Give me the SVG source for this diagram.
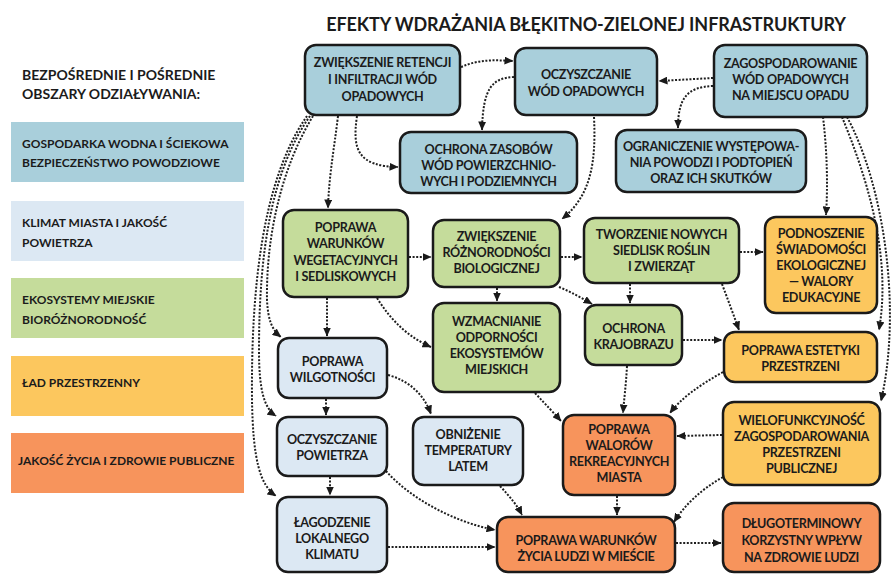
<svg xmlns="http://www.w3.org/2000/svg" width="894" height="574" viewBox="0 0 894 574">
<style>
text{font-family:Lato,"Liberation Sans","DejaVu Sans",sans-serif;font-weight:bold;fill:#1b1b1b}
.t{font-size:12.6px;letter-spacing:-0.3px;text-anchor:middle}
.lg{font-size:12px}
.hd{font-size:14px}
.ttl{font-size:18px;letter-spacing:-0.1px;text-anchor:middle}
.n{stroke:#1a1a1a;stroke-width:2.5}
.w{fill:#a9cfdb}.k{fill:#dce8f3}.g{fill:#c5dc9b}.y{fill:#fcc75e}.o{fill:#f7945c}
.c path{fill:none;stroke:#1f1f1f;stroke-width:2;stroke-dasharray:2 1.6;marker-end:url(#ah)}
</style>
<defs>
<marker id="ah" markerUnits="userSpaceOnUse" markerWidth="9" markerHeight="8" refX="8.5" refY="4" orient="auto">
<path d="M0,0 L9,4 L0,8 z" fill="#1a1a1a"/>
</marker>
</defs>
<rect width="894" height="574" fill="#ffffff"/>
<text class="ttl" x="586" y="31">EFEKTY WDRAŻANIA BŁĘKITNO-ZIELONEJ INFRASTRUKTURY</text>

<g id="legend">
<text class="hd" x="22" y="80">BEZPOŚREDNIE I POŚREDNIE</text>
<text class="hd" x="22" y="99">OBSZARY ODZIAŁYWANIA:</text>
<rect class="w" x="11" y="122" width="233" height="60"/>
<text class="lg" x="22" y="148">GOSPODARKA WODNA I ŚCIEKOWA</text>
<text class="lg" x="22" y="167">BEZPIECZEŃSTWO POWODZIOWE</text>
<rect class="k" x="11" y="201" width="233" height="60"/>
<text class="lg" x="22" y="227">KLIMAT MIASTA I JAKOŚĆ</text>
<text class="lg" x="22" y="247">POWIETRZA</text>
<rect class="g" x="11" y="278" width="233" height="60"/>
<text class="lg" x="22" y="304">EKOSYSTEMY MIEJSKIE</text>
<text class="lg" x="22" y="324">BIORÓŻNORODNOŚĆ</text>
<rect class="y" x="11" y="356" width="233" height="60"/>
<text class="lg" x="22" y="387">ŁAD PRZESTRZENNY</text>
<rect class="o" x="11" y="433" width="233" height="60"/>
<text class="lg" x="18" y="465">JAKOŚĆ ŻYCIA I ZDROWIE PUBLICZNE</text>
</g>

<g class="c" id="connectors">
<path d="M461,67 C480,59 495,60 513,61"/>
<path d="M514,77 C492,78 483,88 482,130"/>
<path d="M713,78 L659,81"/>
<path d="M713,86 C688,87 678,97 678,128"/>
<path d="M357,116 C352,150 358,166 398,167"/>
<path d="M338,116 C334,150 329,175 328,208"/>
<path d="M313,116 C280,170 266,240 267,300 C268,320 272,330 281,337"/>
<path d="M310,116 C272,170 259,250 259,350 C259,390 264,408 276,416"/>
<path d="M307,116 C262,180 251,290 252,400 C253,460 260,485 276,496"/>
<path d="M594,117 C596,160 592,195 562,219"/>
<path d="M823,117 C827,150 828,185 826,215"/>
<path d="M842,117 C866,175 892,255 879,330"/>
<path d="M847,117 C884,185 902,310 881,401"/>
<path d="M409,257 L431,257"/>
<path d="M327,298 L327,336"/>
<path d="M377,298 C392,322 410,338 431,347"/>
<path d="M561,257 L582,257"/>
<path d="M497,288 L497,301"/>
<path d="M559,287 C571,292 582,298 592,304"/>
<path d="M740,252 L763,252"/>
<path d="M630,284 L630,303"/>
<path d="M722,284 C728,300 734,316 739,330"/>
<path d="M683,340 L722,340"/>
<path d="M326,399 L326,415"/>
<path d="M388,375 C410,381 424,395 431,414"/>
<path d="M535,393 C546,405 554,413 561,421"/>
<path d="M627,366 C626,385 624,400 623,413"/>
<path d="M723,372 C700,385 681,398 670,413"/>
<path d="M722,435 L677,436"/>
<path d="M330,477 L330,495"/>
<path d="M386,471 C412,500 455,522 495,530"/>
<path d="M500,486 C510,497 517,505 522,515"/>
<path d="M617,496 L617,515"/>
<path d="M723,477 C700,490 684,506 674,522"/>
<path d="M388,547 L495,547"/>
<path d="M676,543 L721,543"/>
</g>

<g id="n1"><rect class="n w" x="305" y="45" width="155" height="70" rx="11"/>
<text class="t" x="382.5" y="67">ZWIĘKSZENIE RETENCJI</text><text class="t" x="382.5" y="84">I INFILTRACJI WÓD</text><text class="t" x="382.5" y="101">OPADOWYCH</text></g>
<g id="n2"><rect class="n w" x="515" y="48" width="142" height="67" rx="11"/>
<text class="t" x="586" y="79">OCZYSZCZANIE</text><text class="t" x="586" y="96">WÓD OPADOWYCH</text></g>
<g id="n3"><rect class="n w" x="714" y="45" width="153" height="72" rx="11"/>
<text class="t" x="790.5" y="68">ZAGOSPODAROWANIE</text><text class="t" x="790.5" y="84">WÓD OPADOWYCH</text><text class="t" x="790.5" y="100">NA MIEJSCU OPADU</text></g>
<g id="n4"><rect class="n w" x="400" y="132" width="177" height="61" rx="11"/>
<text class="t" x="488.5" y="154">OCHRONA ZASOBÓW</text><text class="t" x="488.5" y="170">WÓD POWIERZCHNIO-</text><text class="t" x="488.5" y="186">WYCH I PODZIEMNYCH</text></g>
<g id="n5"><rect class="n w" x="616" y="130" width="190" height="62" rx="11"/>
<text class="t" x="711" y="151">OGRANICZENIE WYSTĘPOWA-</text><text class="t" x="711" y="167">NIA POWODZI I PODTOPIEŃ</text><text class="t" x="711" y="183">ORAZ ICH SKUTKÓW</text></g>
<g id="n6"><rect class="n g" x="283" y="210" width="125" height="87" rx="11"/>
<text class="t" x="345.5" y="232">POPRAWA</text><text class="t" x="345.5" y="248">WARUNKÓW</text><text class="t" x="345.5" y="265">WEGETACYJNYCH</text><text class="t" x="345.5" y="281">I SEDLISKOWYCH</text></g>
<g id="n7"><rect class="n g" x="433" y="220" width="127" height="67" rx="11"/>
<text class="t" x="496.5" y="241">ZWIĘKSZENIE</text><text class="t" x="496.5" y="257">RÓŻNORODNOŚCI</text><text class="t" x="496.5" y="273">BIOLOGICZNEJ</text></g>
<g id="n8"><rect class="n g" x="584" y="218" width="155" height="65" rx="11"/>
<text class="t" x="661.5" y="239">TWORZENIE NOWYCH</text><text class="t" x="661.5" y="255">SIEDLISK ROŚLIN</text><text class="t" x="661.5" y="271">I ZWIERZĄT</text></g>
<g id="n9"><rect class="n y" x="765" y="217" width="112" height="96" rx="11"/>
<text class="t" x="821" y="238">PODNOSZENIE</text><text class="t" x="821" y="254">ŚWIADOMOŚCI</text><text class="t" x="821" y="270">EKOLOGICZNEJ</text><text class="t" x="821" y="286">— WALORY</text><text class="t" x="821" y="302">EDUKACYJNE</text></g>
<g id="n10"><rect class="n k" x="278" y="338" width="109" height="60" rx="11"/>
<text class="t" x="332.5" y="366">POPRAWA</text><text class="t" x="332.5" y="382">WILGOTNOŚCI</text></g>
<g id="n11"><rect class="n g" x="433" y="303" width="127" height="89" rx="11"/>
<text class="t" x="496.5" y="326">WZMACNIANIE</text><text class="t" x="496.5" y="342">ODPORNOŚCI</text><text class="t" x="496.5" y="358">EKOSYSTEMÓW</text><text class="t" x="496.5" y="374">MIEJSKICH</text></g>
<g id="n12"><rect class="n g" x="585" y="305" width="97" height="60" rx="11"/>
<text class="t" x="633.5" y="333">OCHRONA</text><text class="t" x="633.5" y="349">KRAJOBRAZU</text></g>
<g id="n13"><rect class="n y" x="724" y="332" width="153" height="50" rx="11"/>
<text class="t" x="800.5" y="355">POPRAWA ESTETYKI</text><text class="t" x="800.5" y="371">PRZESTRZENI</text></g>
<g id="n14"><rect class="n k" x="277" y="417" width="110" height="59" rx="11"/>
<text class="t" x="332" y="444">OCZYSZCZANIE</text><text class="t" x="332" y="460">POWIETRZA</text></g>
<g id="n15"><rect class="n k" x="413" y="417" width="110" height="68" rx="11"/>
<text class="t" x="468" y="439">OBNIŻENIE</text><text class="t" x="468" y="455">TEMPERATURY</text><text class="t" x="468" y="471">LATEM</text></g>
<g id="n16"><rect class="n o" x="563" y="415" width="112" height="80" rx="11"/>
<text class="t" x="619" y="434">POPRAWA</text><text class="t" x="619" y="450">WALORÓW</text><text class="t" x="619" y="466">REKREACYJNYCH</text><text class="t" x="619" y="482">MIASTA</text></g>
<g id="n17"><rect class="n y" x="723" y="402" width="157" height="83" rx="11"/>
<text class="t" x="801.5" y="425">WIELOFUNKCYJNOŚĆ</text><text class="t" x="801.5" y="441">ZAGOSPODAROWANIA</text><text class="t" x="801.5" y="457">PRZESTRZENI</text><text class="t" x="801.5" y="473">PUBLICZNEJ</text></g>
<g id="n18"><rect class="n k" x="277" y="497" width="110" height="75" rx="11"/>
<text class="t" x="332" y="527">ŁAGODZENIE</text><text class="t" x="332" y="543">LOKALNEGO</text><text class="t" x="332" y="559">KLIMATU</text></g>
<g id="n19"><rect class="n o" x="497" y="517" width="178" height="55" rx="11"/>
<text class="t" x="586" y="545">POPRAWA WARUNKÓW</text><text class="t" x="586" y="561">ŻYCIA LUDZI W MIEŚCIE</text></g>
<g id="n20"><rect class="n o" x="723" y="503" width="157" height="69" rx="11"/>
<text class="t" x="801.5" y="528">DŁUGOTERMINOWY</text><text class="t" x="801.5" y="545">KORZYSTNY WPŁYW</text><text class="t" x="801.5" y="562">NA ZDROWIE LUDZI</text></g>
</svg>
